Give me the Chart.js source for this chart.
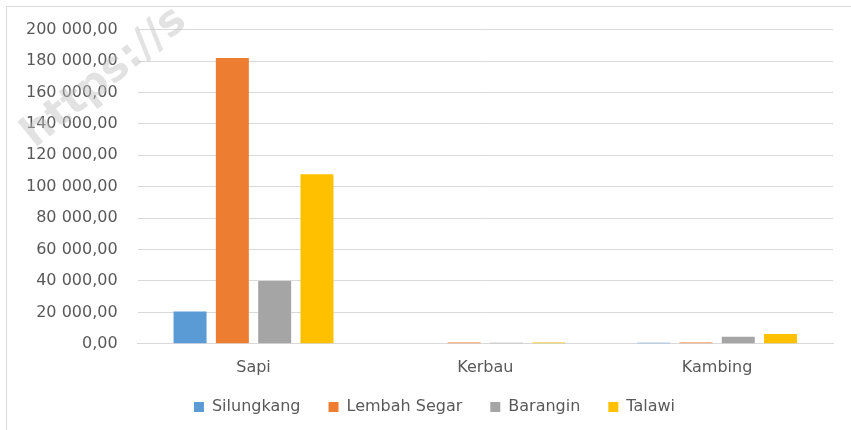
<!DOCTYPE html>
<html>
<head>
<meta charset="utf-8">
<script src="https://cdn.jsdelivr.net/npm/chart.js@4"></script>
<style>
  html, body { margin: 0; padding: 0; background: #fff; }
  #wrap { position: relative; width: 851px; height: 430px; }
</style>
</head>
<body>
<div id="wrap"><canvas id="chart" width="851" height="430"></canvas></div>
<script>
// data
const categories = ["Sapi", "Kerbau", "Kambing"];
const seriesNames = ["Silungkang", "Lembah Segar", "Barangin", "Talawi"];
const silungkang = [20500, 0, 700];
const lembahSegar = [182000, 900, 800];
const barangin = [40000, 700, 4500];
const talawi = [108000, 900, 6300];
const colors = ["#5B9BD5", "#ED7D31", "#A5A5A5", "#FFC000"];

// 200000 -> "200 000,00"
function formatTick(v) {
    const s = Math.round(v).toString().replace(/\B(?=(\d{3})+(?!\d))/g, " ");
    return s + ",00";
}

const FONT = "DejaVu Sans";

// frame lines + watermark, and a tighter legend box
const extras = {
    id: "extras",
    beforeInit(chart) {
        const fit = chart.legend.fit;
        chart.legend.fit = function () {
            fit.call(this);
            this.height -= 13;
        };
    },
    afterLayout(chart) {
        const lg = chart.legend;
        lg.top -= 12;
        lg.height += 12;
        lg.left += 15;
        lg.right += 15;
    },
    beforeDraw(chart) {
        const ctx = chart.ctx;
        ctx.save();
        ctx.strokeStyle = "#d9d9d9";
        ctx.lineWidth = 1;
        ctx.beginPath();
        ctx.moveTo(6.5, 430);
        ctx.lineTo(6.5, 6.5);
        ctx.lineTo(851, 6.5);
        ctx.stroke();
        ctx.restore();
    },
    afterDraw(chart) {
        const ctx = chart.ctx;
        ctx.save();
        ctx.translate(28, 140);
        ctx.rotate(-39 * Math.PI / 180);
        ctx.font = "bold 42px 'DejaVu Sans'";
        ctx.fillStyle = "rgba(190,190,190,0.45)";
        ctx.fillText("https://s", 0, 0);
        ctx.restore();
    }
};

const values = [silungkang, lembahSegar, barangin, talawi];

new Chart(document.getElementById("chart"), {
    type: "bar",
    data: {
        labels: categories,
        datasets: seriesNames.map((name, i) => ({
            label: name,
            data: values[i],
            backgroundColor: colors[i],
            categoryPercentage: 0.73,
            barPercentage: 0.78
        }))
    },
    options: {
        responsive: false,
        animation: false,
        layout: { padding: { left: 6, right: 18, top: 20, bottom: 6 } },
        plugins: {
            legend: {
                position: "bottom",
                padding: 1,
                labels: {
                    boxWidth: 10,
                    boxHeight: 10,
                    padding: 28,
                    color: "#595959",
                    font: { family: FONT, size: 16 }
                }
            },
            tooltip: { enabled: false }
        },
        scales: {
            x: {
                grid: { display: false },
                border: { color: "#d9d9d9" },
                ticks: {
                    color: "#595959",
                    padding: 6,
                    font: { family: FONT, size: 16 }
                }
            },
            y: {
                min: 0,
                max: 200000,
                border: { display: false },
                grid: { color: "#d9d9d9", drawTicks: false },
                ticks: {
                    stepSize: 20000,
                    padding: 20,
                    color: "#595959",
                    font: { family: FONT, size: 16 },
                    callback: formatTick
                }
            }
        }
    },
    plugins: [extras]
});
</script>
</body>
</html>
